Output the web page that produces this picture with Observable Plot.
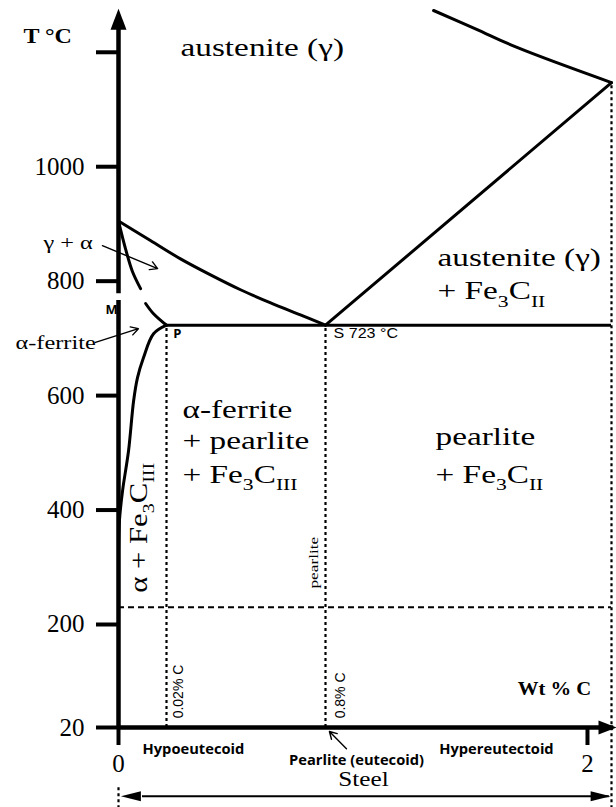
<!DOCTYPE html>
<html>
<head>
<meta charset="utf-8">
<script src="https://cdn.jsdelivr.net/npm/d3@7"></script>
<script src="https://cdn.jsdelivr.net/npm/@observablehq/plot@0.6"></script>
<style>
  html, body { margin: 0; padding: 0; background: #fff; }
  #chart svg g[aria-label^="y-axis"] line,
  #chart svg g[aria-label^="x-axis"] line,
  #chart svg g[aria-label="y-axis tick"] path,
  #chart svg g[aria-label="x-axis tick"] path { stroke-width: 4px; stroke: #000; }
</style>
</head>
<body>
<div id="chart"></div>
<script>
// Fe–Fe3C diagram, steel portion (schematic composition axis)

// axis ticks
const yTicks = [20, 200, 400, 600, 800, 1000, 1200];
const xTicks = [0, 2];
// composition break points of the schematic x axis (wt % C) and where they sit along it
const xBreaks = [0, 0.02, 0.8, 2.11];
const xStops = [0, 48, 207, 493];
const u = d3.scaleLinear().domain(xBreaks).range(xStops);

// key points
const eutectoidT = 723;
const eutectoidC = 0.8;
const ferriteMaxC = 0.02;
const steelMaxC = 2.11;
const eutecticLimitT = 1147;
const lowLineT = 230;

// phase boundaries (c = wt % C, T = °C)
const austeniteLimit = [
  {c: 0, T: 905}, {c: 0.0133, T: 871}, {c: 0.0887, T: 839}, {c: 0.236, T: 811},
  {c: 0.383, T: 785}, {c: 0.531, T: 762}, {c: 0.677, T: 741}, {c: 0.8, T: 723}
];
const ferriteLimitUpper = [
  {c: 0, T: 905}, {c: 0.0029, T: 857}, {c: 0.0058, T: 817}, {c: 0.0092, T: 787}
];
const ferriteLimitLower = [
  {c: 0.0113, T: 761}, {c: 0.0146, T: 743}, {c: 0.02, T: 723}
];
const ferriteSolvus = [
  {c: 0.02, T: 723}, {c: 0.0146, T: 708}, {c: 0.0104, T: 666}, {c: 0.0079, T: 631},
  {c: 0.0063, T: 591}, {c: 0.0042, T: 504}, {c: 0.0017, T: 434}, {c: 0.0004, T: 382}, {c: 0, T: 330}
];
const cementiteSolvus = [{c: 0.8, T: 723}, {c: 2.11, T: 1147}];
const solidus = [{c: 1.295, T: 1273}, {c: 1.487, T: 1241}, {c: 1.68, T: 1208}, {c: 2.11, T: 1147}];

// labels ({n} marks a subscript)
const phaseLabels = [
  {text: "austenite (γ)", c: 0.0887, T: 1194},
  {text: "austenite (γ)", c: 1.313, T: 827},
  {text: "+ Fe{3}C{II}", c: 1.313, T: 769},
  {text: "α-ferrite", c: 0.0985, T: 560},
  {text: "+ pearlite", c: 0.0985, T: 506},
  {text: "+ Fe{3}C{III}", c: 0.0985, T: 448},
  {text: "pearlite", c: 1.304, T: 513},
  {text: "+ Fe{3}C{II}", c: 1.304, T: 448}
];
const sidePhaseLabels = [{text: "α + Fe{3}C{III}", c: 0.0083, T: 369}];
const smallLabels = [
  {text: "γ + α", c: -0.0313, T: 857},
  {text: "α-ferrite", c: -0.0429, T: 682}
];
const pointLabels = [
  {text: "M", c: -0.0054, T: 743},
  {text: "P", c: 0.0534, T: 701}
];
const eutectoidLabel = [{text: "S 723 °C", c: 0.8366, T: 701}];
const compositionLabels = [
  {text: "0.02% C", c: 0.0789, T: 36},
  {text: "0.8% C", c: 0.869, T: 36}
];
const pearliteLineLabel = [{text: "pearlite", c: 0.741, T: 308}];
const rangeLabels = [
  {text: "Hypoeutecoid", c: 0.152, T: -27},
  {text: "Pearlite (eutecoid)", c: 0.942, T: -45},
  {text: "Hypereutectoid", c: 1.583, T: -27}
];
const titleLabel = [{text: "T °C", c: -0.0396, T: 1217}];
const unitLabel = [{text: "Wt % C", c: 1.849, T: 76}];
const steelLabel = [{text: "Steel", c: 0.974, T: -83}];
const pointers = [
  {c1: -0.0067, T1: 862, c2: 0.0163, T2: 822},
  {c1: -0.0096, T1: 693, c2: 0.0083, T2: 717},
  {c1: 0.896, T1: -17, c2: 0.818, T2: 13}
];
const steelSpanT = -100;

// filled arrowhead symbol, tip at the dot position
function arrowHead(dx, dy, len, half) {
  return {
    draw(ctx, size) {
      const r = Math.sqrt(size / Math.PI);
      const L = len * r, H = half * r;
      const bx = -dx * L, by = -dy * L;
      ctx.moveTo(0, 0);
      ctx.lineTo(bx - dy * H, by + dx * H);
      ctx.lineTo(bx + dy * H, by - dx * H);
      ctx.closePath();
    }
  };
}

const X = d => u(d.c);
const X1 = d => u(d.c1);
const X2 = d => u(d.c2);

const serif = "'Liberation Serif', 'Times New Roman', serif";
const sans = "'Liberation Sans', Arial, sans-serif";
const sansBold = "'Open Sans', 'Liberation Sans', sans-serif";

const svg = Plot.plot({
  width: 616,
  height: 807,
  marginTop: 10,
  marginBottom: 80,
  marginLeft: 118,
  marginRight: 5,
  style: {fontFamily: serif, fontSize: "25px", background: "#fff", color: "#000"},
  x: {domain: [xStops[0], xStops[xStops.length - 1]], ticks: xTicks.map(u), tickSize: 18, tickPadding: 9, label: null,
      tickFormat: v => String(Math.round(u.invert(v)))},
  y: {domain: [20, 1273], ticks: yTicks, tickSize: 22, tickPadding: 12, label: null,
      tickFormat: d => (d === 1200 ? "" : String(d))},
  marks: [
    // reference lines
    Plot.ruleY([{T: lowLineT, c1: 0, c2: steelMaxC}], {y: "T", x1: X1, x2: X2, strokeWidth: 2, strokeDasharray: "6,4"}),
    Plot.ruleX([
      {c: ferriteMaxC, T1: 20, T2: eutectoidT},
      {c: eutectoidC, T1: 20, T2: eutectoidT},
      {c: steelMaxC, T1: -122, T2: eutecticLimitT},
      {c: 0, T1: -122, T2: -81}
    ], {x: X, y1: "T1", y2: "T2", strokeWidth: 2.2, strokeDasharray: "3,3"}),

    // axes
    Plot.ruleX([{c: 0, T1: 20, T2: 766}, {c: 0, T1: 778, T2: 1255}], {x: X, y1: "T1", y2: "T2", strokeWidth: 4.5}),
    Plot.ruleY([{T: 20, c1: 0, c2: 2.12}], {y: "T", x1: X1, x2: X2, strokeWidth: 4.5}),
    Plot.dot([{c: 0, T: 1276}], {x: X, y: "T", r: 1, symbol: arrowHead(0, -1, 21, 8), fill: "#000", stroke: null}),
    Plot.dot([{c: 2.133, T: 20}], {x: X, y: "T", r: 1, symbol: arrowHead(1, 0, 18, 7), fill: "#000", stroke: null}),

    // phase boundaries
    Plot.line(austeniteLimit, {x: X, y: "T", strokeWidth: 3, curve: "catmull-rom"}),
    Plot.line(ferriteLimitUpper, {x: X, y: "T", strokeWidth: 3, curve: "catmull-rom"}),
    Plot.line(ferriteLimitLower, {x: X, y: "T", strokeWidth: 3, curve: "catmull-rom"}),
    Plot.line(ferriteSolvus, {x: X, y: "T", strokeWidth: 3, curve: "catmull-rom"}),
    Plot.line(cementiteSolvus, {x: X, y: "T", strokeWidth: 3}),
    Plot.line(solidus, {x: X, y: "T", strokeWidth: 3, curve: "catmull-rom"}),
    Plot.ruleY([{T: eutectoidT, c1: ferriteMaxC, c2: steelMaxC}], {y: "T", x1: X1, x2: X2, strokeWidth: 3}),

    // steel span arrow
    Plot.ruleY([{T: steelSpanT, c1: 0.01, c2: 2.1}], {y: "T", x1: X1, x2: X2, strokeWidth: 2}),
    Plot.dot([{c: 0.001, T: steelSpanT}], {x: X, y: "T", r: 1, symbol: arrowHead(-1, 0, 20, 5), fill: "#000", stroke: null}),
    Plot.dot([{c: 2.106, T: steelSpanT}], {x: X, y: "T", r: 1, symbol: arrowHead(1, 0, 20, 5), fill: "#000", stroke: null}),

    // pointers
    Plot.arrow(pointers, {x1: X1, y1: "T1", x2: X2, y2: "T2", strokeWidth: 1.4, headLength: 9}),

    // labels
    Plot.text(phaseLabels, {x: X, y: "T", text: "text", textAnchor: "start", lineAnchor: "bottom", fontSize: 26}),
    Plot.text(sidePhaseLabels, {x: X, y: "T", text: "text", rotate: -90, textAnchor: "middle", lineAnchor: "middle", fontSize: 26}),
    Plot.text(smallLabels, {x: X, y: "T", text: "text", textAnchor: "start", lineAnchor: "bottom", fontSize: 19}),
    Plot.text(pearliteLineLabel, {x: X, y: "T", text: "text", rotate: -90, textAnchor: "middle", lineAnchor: "middle", fontSize: 13.5}),
    Plot.text(titleLabel, {x: X, y: "T", text: "text", textAnchor: "start", lineAnchor: "bottom", fontSize: 20, fontWeight: "bold"}),
    Plot.text(unitLabel, {x: X, y: "T", text: "text", textAnchor: "middle", lineAnchor: "bottom", fontSize: 18, fontWeight: "bold"}),
    Plot.text(steelLabel, {x: X, y: "T", text: "text", textAnchor: "middle", lineAnchor: "bottom", fontSize: 21}),
    Plot.text(pointLabels, {x: X, y: "T", text: "text", textAnchor: "start", lineAnchor: "bottom", fontFamily: sansBold, fontWeight: "bold", fontSize: 13}),
    Plot.text(eutectoidLabel, {x: X, y: "T", text: "text", textAnchor: "start", lineAnchor: "bottom", fontFamily: sans, fontSize: 14}),
    Plot.text(compositionLabels, {x: X, y: "T", text: "text", rotate: -90, textAnchor: "start", lineAnchor: "middle", fontFamily: sans, fontSize: 14}),
    Plot.text(rangeLabels, {x: X, y: "T", text: "text", textAnchor: "middle", lineAnchor: "bottom", fontFamily: sansBold, fontWeight: "bold", fontSize: 14})
  ]
});

document.getElementById("chart").appendChild(svg);

// horizontal widening of the lettering, by label group
const widening = new Map();
const setWidening = (labels, k) => labels.forEach(d => widening.set(d.text, k));
setWidening(phaseLabels, 1.28);
setWidening(sidePhaseLabels, 1.18);
setWidening(smallLabels, 1.28);
setWidening(pearliteLineLabel, 1.28);
setWidening(titleLabel, 1.2);
setWidening(unitLabel, 1.15);
setWidening(steelLabel, 1.2);
setWidening(eutectoidLabel, 1.15);
setWidening(rangeLabels, 1.05);

d3.select(svg).selectAll("text").each(function() {
  const s = this.textContent;
  const k = widening.get(s);
  if (k) {
    const t = this.getAttribute("transform");
    if (t) {
      this.setAttribute("transform", `${t} scale(${k},1)`);
    } else {
      const x = +(this.getAttribute("x") || 0), y = this.getAttribute("y");
      if (y && !String(y).endsWith("em")) {
        this.setAttribute("transform", `translate(${x},${+y}) scale(${k},1)`);
        this.removeAttribute("x"); this.removeAttribute("y");
      }
    }
  }
  // {n} markup becomes a subscript
  if (!s.includes("{")) return;
  this.textContent = "";
  const parts = s.split(/(\{[^}]*\})/).filter(p => p.length);
  let lowered = false;
  for (const p of parts) {
    const ts = document.createElementNS("http://www.w3.org/2000/svg", "tspan");
    if (p.startsWith("{")) {
      ts.textContent = p.slice(1, -1);
      ts.setAttribute("font-size", "0.65em");
      if (!lowered) ts.setAttribute("dy", "0.45em");
      lowered = true;
    } else {
      ts.textContent = p;
      if (lowered) ts.setAttribute("dy", "-0.2925em");
      lowered = false;
    }
    this.appendChild(ts);
  }
});
</script>
</body>
</html>
